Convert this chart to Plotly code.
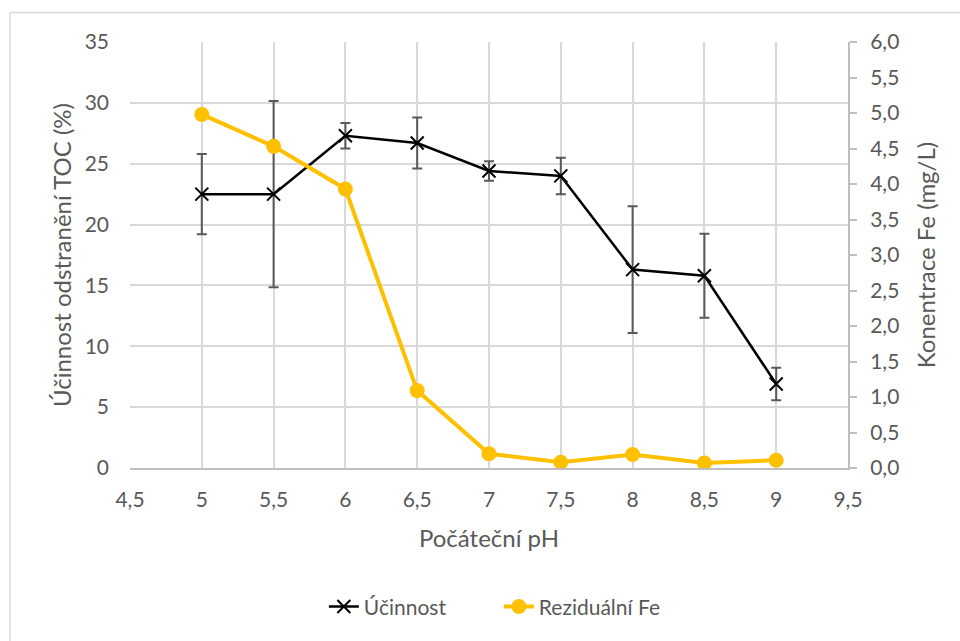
import plotly.graph_objects as go

# Initial pH values
ph = [5, 5.5, 6, 6.5, 7, 7.5, 8, 8.5, 9]

# TOC removal efficiency (%) with error bar half-widths
ucinnost = [22.5, 22.5, 27.3, 26.7, 24.4, 24.0, 16.3, 15.8, 6.9]
ucinnost_err = [3.3, 7.65, 1.05, 2.1, 0.8, 1.5, 5.2, 3.45, 1.33]

# Residual iron concentration (mg/L)
fe = [4.98, 4.53, 3.93, 1.09, 0.20, 0.08, 0.19, 0.07, 0.11]

FONT = "Lato, Open Sans, sans-serif"
TXT = "#595959"

fe_trace = go.Scatter(
    x=ph, y=fe, name="Reziduální Fe", mode="lines+markers",
    line=dict(color="#FFC000", width=4),
    marker=dict(symbol="circle", size=15, color="#FFC000"),
    yaxis="y2",
)

ucinnost_trace = go.Scatter(
    x=ph, y=ucinnost, name="Účinnost", mode="lines+markers",
    line=dict(color="black", width=2.5),
    marker=dict(symbol="x-thin", size=13, line=dict(color="black", width=2)),
    error_y=dict(type="data", array=ucinnost_err, visible=True,
                 color="#595959", thickness=2, width=5),
    yaxis="y",
)

# Efficiency series drawn on top of the iron series
fig = go.Figure([fe_trace, ucinnost_trace])

fig.update_layout(
    width=960, height=641,
    margin=dict(l=130, r=112, t=42, b=173),
    paper_bgcolor="white", plot_bgcolor="white",
    separators=", ",
    font=dict(family=FONT, size=21, color=TXT),
    showlegend=True,
    legend=dict(orientation="h", x=0.27, xanchor="left", y=-0.326, yanchor="middle",
                font=dict(size=21, color=TXT), traceorder="reversed",
                entrywidth=130, entrywidthmode="pixels"),
    xaxis=dict(
        range=[4.5, 9.5], dtick=0.5, tick0=4.5,
        showgrid=True, gridcolor="#d9d9d9", gridwidth=1.5,
        showline=True, linecolor="#bfbfbf", linewidth=2,
        ticks="", zeroline=False, ticklabelstandoff=12,
        title=dict(text="Počáteční pH", standoff=20, font=dict(size=24, color=TXT)),
    ),
    yaxis=dict(
        range=[0, 35], dtick=5,
        showgrid=True, gridcolor="#d9d9d9", gridwidth=1.5,
        showline=False, ticks="", zeroline=False, ticklabelstandoff=20,
        title=dict(text="Účinnost odstranění TOC (%)", standoff=6, font=dict(size=24, color=TXT)),
    ),
    yaxis2=dict(
        range=[0, 6], dtick=0.5, tickformat=".1f",
        overlaying="y", side="right",
        showgrid=False, zeroline=False,
        showline=True, linecolor="#bfbfbf", linewidth=2,
        ticks="outside", ticklen=7, tickcolor="#bfbfbf", tickwidth=2,
        ticklabelstandoff=9,
        title=dict(text="Konentrace Fe (mg/L)", standoff=20, font=dict(size=24, color=TXT)),
    ),
    shapes=[dict(type="rect", xref="paper", yref="paper",
                 x0=-0.167, x1=1.3, y0=-0.6, y1=1.069,
                 line=dict(color="#d9d9d9", width=1.5), fillcolor="rgba(0,0,0,0)",
                 layer="below")],
)

fig.write_html("out.html")
